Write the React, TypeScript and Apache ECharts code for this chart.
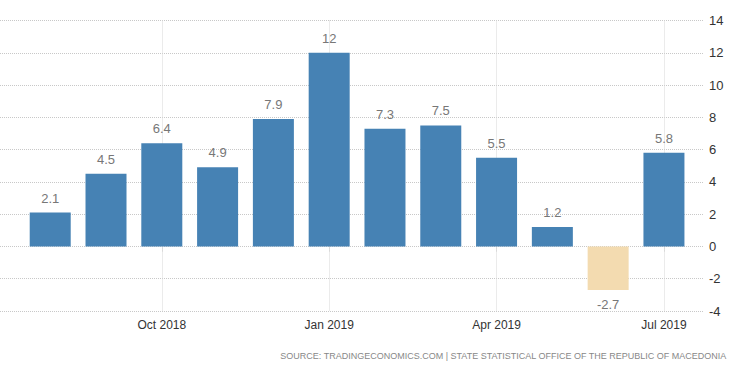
import React, { useEffect, useRef } from "react";
import * as echarts from "echarts";

const months = ["Aug 2018", "Sep 2018", "Oct 2018", "Nov 2018", "Dec 2018", "Jan 2019", "Feb 2019", "Mar 2019", "Apr 2019", "May 2019", "Jun 2019", "Jul 2019"];
const values = [2.1, 4.5, 6.4, 4.9, 7.9, 12, 7.3, 7.5, 5.5, 1.2, -2.7, 5.8];
const tickMonths = ["Oct 2018", "Jan 2019", "Apr 2019", "Jul 2019"];
const yTicks = [-4, -2, 0, 2, 4, 6, 8, 10, 12, 14];
const sourceText = "SOURCE: TRADINGECONOMICS.COM | STATE STATISTICAL OFFICE OF THE REPUBLIC OF MACEDONIA";

export default function App() {
  const ref = useRef<HTMLDivElement>(null);
  useEffect(() => {
    document.body.style.margin = "0";
    const chart = echarts.init(ref.current!, null, { renderer: "svg" });
    const tickIdx = tickMonths.map((m) => months.indexOf(m) + 1);
    chart.setOption({
      animation: false,
      backgroundColor: "#ffffff",
      grid: { left: 0, right: 47, top: 20.5, bottom: 62, containLabel: false },
      xAxis: {
        type: "value",
        min: 0.1,
        max: 12.7,
        axisLine: { show: false },
        axisTick: {
          show: true,
          customValues: tickIdx,
          length: 6,
          lineStyle: { color: "#cccccc", type: "dotted" },
        },
        axisLabel: {
          customValues: tickIdx,
          formatter: (v: number) => months[Math.round(v) - 1] || "",
          color: "#333333",
          fontSize: 12,
          fontFamily: "Liberation Sans, Arial, sans-serif",
          margin: 8,
        },
        splitLine: { show: true, lineStyle: { color: "#d6d6d6", type: "dotted", width: 1 } },
      },
      yAxis: {
        type: "value",
        position: "right",
        min: yTicks[0],
        max: yTicks[yTicks.length - 1],
        interval: 2,
        axisLine: { show: false },
        axisTick: { show: false },
        axisLabel: {
          color: "#333333",
          fontSize: 13,
          fontFamily: "Liberation Sans, Arial, sans-serif",
          margin: 6,
        },
        splitLine: { show: true, lineStyle: { color: "#c8c8c8", type: "dotted", width: 1 } },
      },
      series: [
        {
          type: "bar",
          barWidth: 41,
          data: values.map((v, i) => ({
            value: [i + 1, v],
            itemStyle: { color: v < 0 ? "#f3dbb0" : "#4682b4" },
            label: { position: v < 0 ? "bottom" : "top" },
          })),
          label: {
            show: true,
            formatter: (p: any) => String(p.value[1]),
            color: "#777777",
            fontSize: 13,
            fontFamily: "Liberation Sans, Arial, sans-serif",
            distance: 8,
          },
        },
      ],
      graphic: [
        {
          type: "text",
          right: 23,
          top: 351,
          style: {
            text: sourceText,
            fill: "#888888",
            fontSize: 9,
            fontFamily: "Liberation Sans, Arial, sans-serif",
          },
        },
      ],
    });
    return () => chart.dispose();
  }, []);
  return <div ref={ref} style={{ width: 750, height: 373 }} />;
}
